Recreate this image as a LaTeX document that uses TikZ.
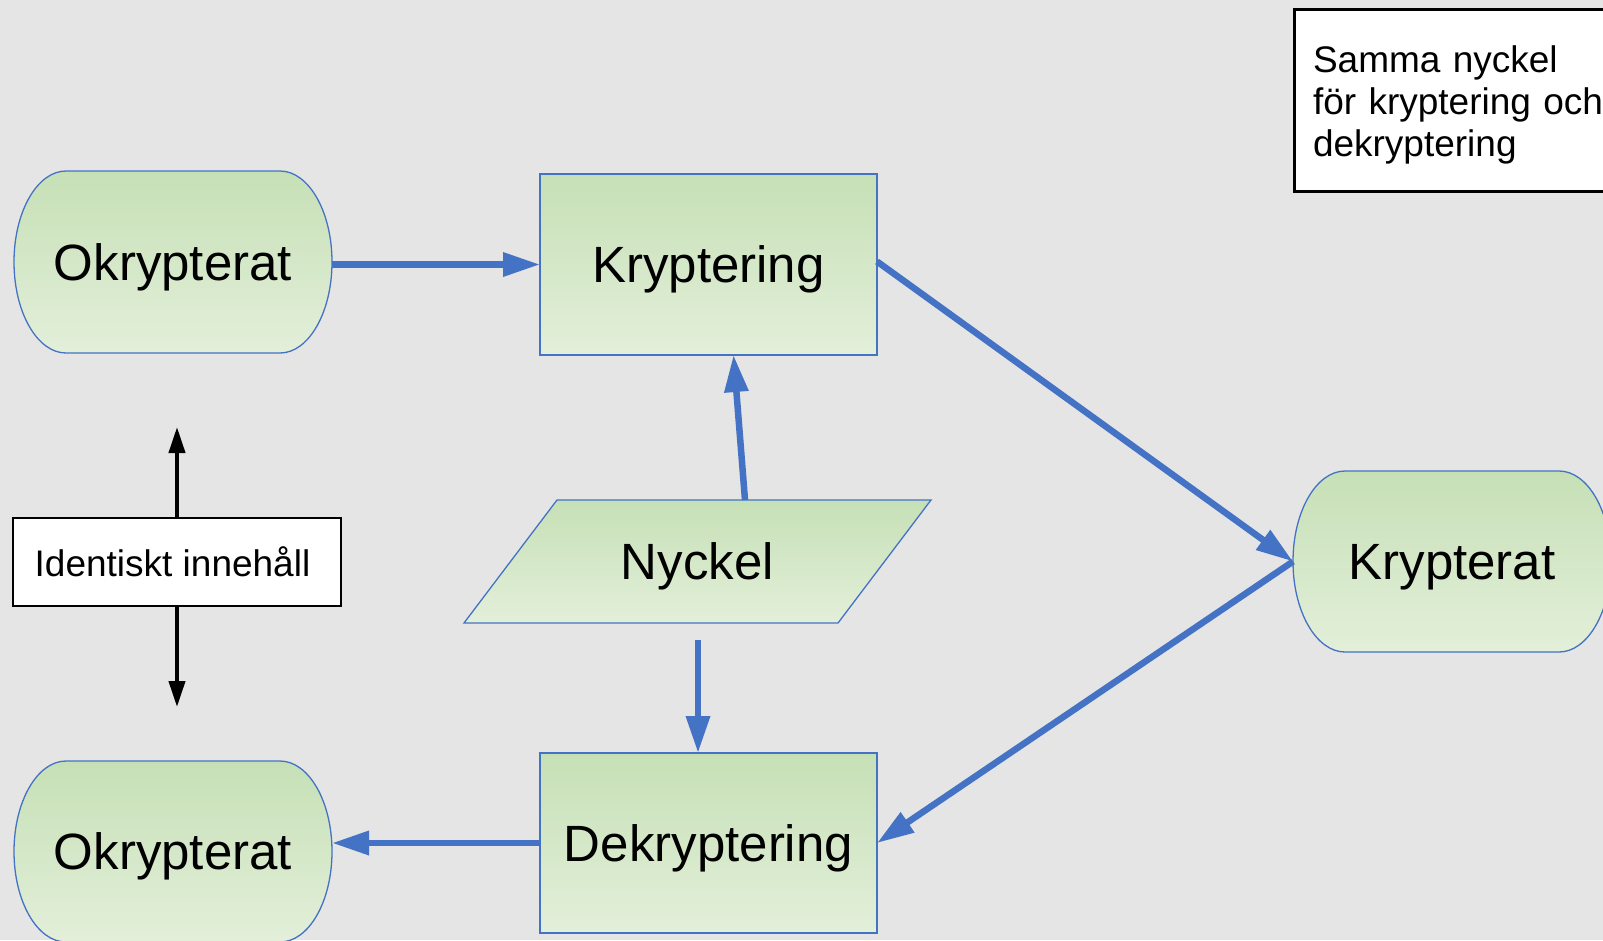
\documentclass[tikz,border=0pt]{standalone}
\usepackage{fontspec}
\setmainfont{Liberation Sans}
\usetikzlibrary{arrows.meta,calc}
\definecolor{bgc}{HTML}{E5E5E5}
\definecolor{gtop}{HTML}{C6E0B6}
\definecolor{gbot}{HTML}{E3EFDA}
\definecolor{bl}{HTML}{4472C4}
\tikzset{
  lbl/.style={inner sep=0pt, outer sep=0pt, text height=36.5pt, text depth=0pt,
              font=\fontsize{51}{60}\selectfont},
  gshape/.style={draw=bl, line width=1.3pt, top color=gtop, bottom color=gbot},
  barrow/.style={draw=bl, line width=6.5pt, -{Triangle[length=37pt,width=23pt]}},
  karrow/.style={draw=black, line width=4pt, -{Triangle[length=26pt,width=16pt]}},
  wbox/.style={draw=black, line width=2.5pt, fill=white, inner sep=0pt, outer sep=0pt,
               font=\fontsize{37}{42}\selectfont},
}
\newcommand{\termpath}[4]{% x0 y0 x1 y1
  (#1+52,#2) -- (#3-52,#2)
  arc[start angle=-90, end angle=90, x radius=52, y radius={(#4-#2)/2}]
  -- (#1+52,#4)
  arc[start angle=90, end angle=270, x radius=52, y radius={(#4-#2)/2}] -- cycle}
\begin{document}
\begin{tikzpicture}[x=1pt,y=-1pt]
\useasboundingbox (0,0) rectangle (1603,940);
\clip (0,0) rectangle (1603,940);
\fill[bgc] (0,0) rectangle (1603,940);

% shapes
\path[gshape] \termpath{14}{171}{332}{353};
\path[gshape] \termpath{14}{761}{332}{942};
\path[gshape] \termpath{1293}{471}{1611}{652};
\path[gshape] (540,174) rectangle (877,355);
\path[gshape] (540,753) rectangle (877,933);
\path[gshape] (557,500) -- (931,500) -- (838,623) -- (464,623) -- cycle;

% labels / named nodes
\node[lbl, minimum width=318pt, minimum height=182pt] (okt) at (173,262) {Okrypterat};
\node[lbl, minimum width=337pt, minimum height=181pt] (kry) at (708.5,264.5) {Kryptering};
\node[lbl, minimum width=337pt, minimum height=180pt] (dek) at (708.5,843) {Dekryptering};
\node[lbl, minimum width=318pt, minimum height=181pt] (kr) at (1452,561.5) {Krypterat};
\node[lbl, minimum width=318pt, minimum height=181pt] (okb) at (173,851.5) {Okrypterat};
\node[lbl, minimum width=374pt, minimum height=123pt] (nyc) at (697.5,561.5) {Nyckel};

% blue connectors
\draw[barrow] (okt.east |- kry.west) -- (kry.west);
\draw[barrow] ($(nyc.north)+(47.5,0)$) -- ($(kry.south)+(25,0)$);
\draw[barrow] ($(nyc.south)+(0.5,17)$) -- ($(dek.north)+(-10.5,0)$);
\draw[barrow] ($(kry.east)+(0,-3)$) -- (kr.west);
\draw[barrow] (kr.west) -- (dek.east);
\draw[barrow] (dek.west) -- (dek.west -| okb.east);

% identical-content box and arrows
\node[wbox, minimum width=328pt, minimum height=88pt] (ident) at (177,562) {\hspace*{-9pt}Identiskt innehåll};
\coordinate (up) at (177,427);
\coordinate (down) at (177,707);
\draw[karrow] (ident.north) -- (up);
\draw[karrow] (ident.south) -- (down);

% note box
\node[wbox, line width=3pt, anchor=north west, minimum height=182pt, text width=300pt,
      inner xsep=19pt, align=left] (note) at (1294,9)
  {\rule{0pt}{36pt}Samma nyckel\\för kryptering och\\dekryptering};
\end{tikzpicture}
\end{document}
